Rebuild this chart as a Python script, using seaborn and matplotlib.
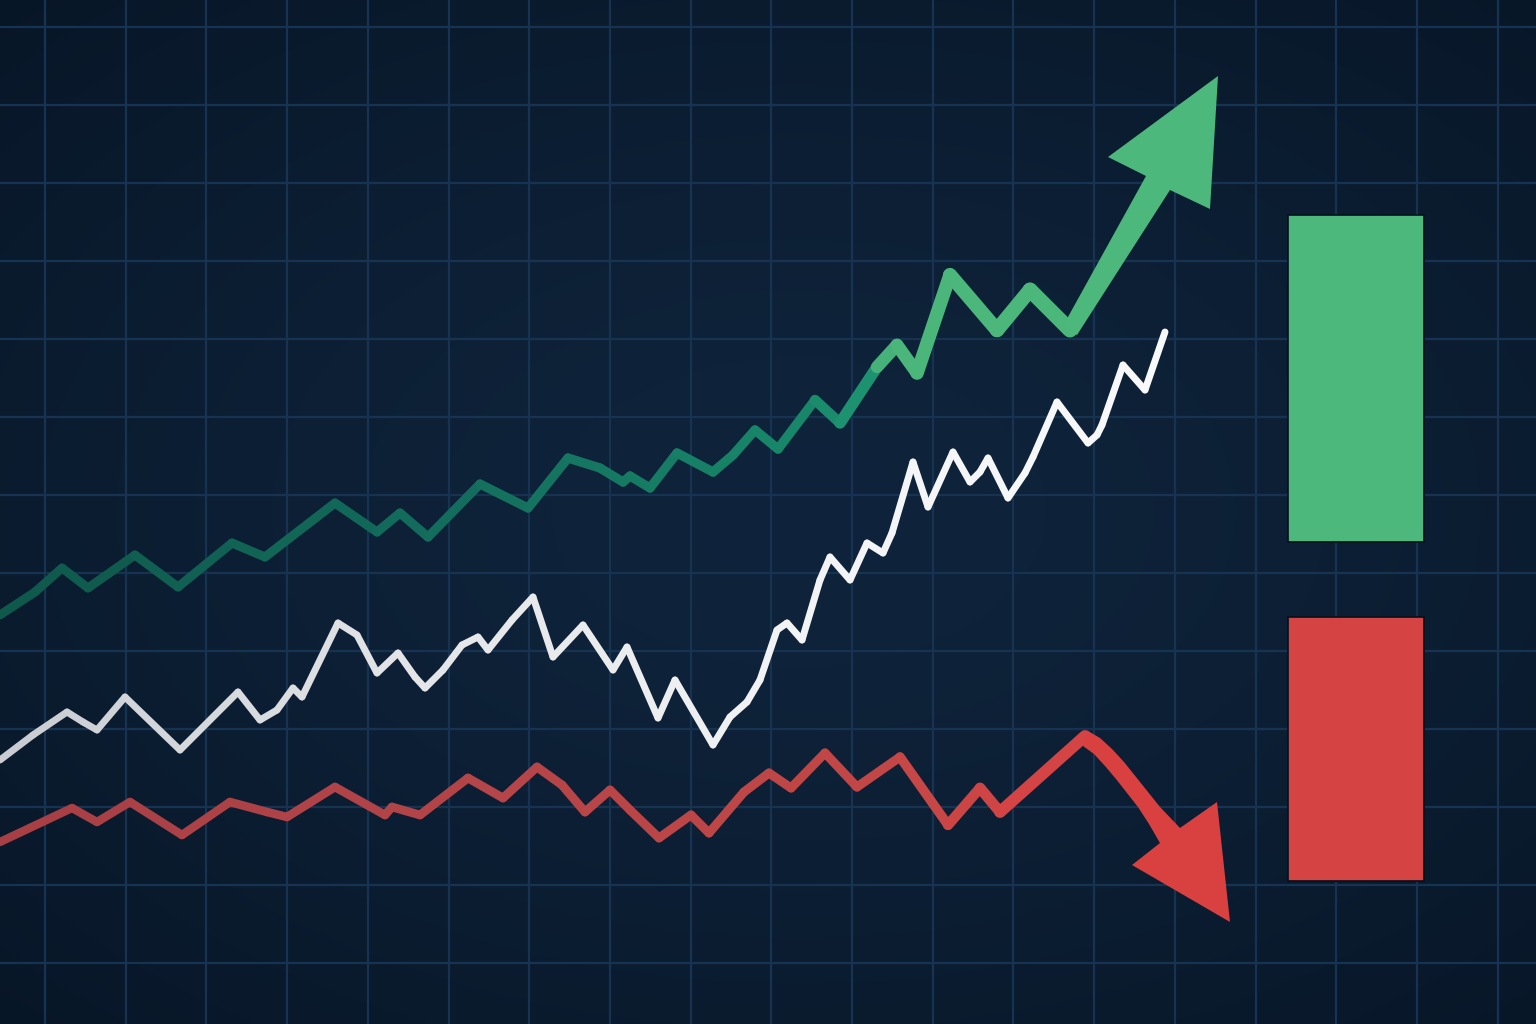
import numpy as np
import pandas as pd
import matplotlib
matplotlib.use("Agg")
import matplotlib.pyplot as plt
import seaborn as sns
from matplotlib.colors import to_rgb

# ---------------- data ----------------
green_x = [0.0, 3.5, 6.2, 8.8, 13.5, 17.8, 23.2, 26.5, 33.5, 37.7, 40.0, 42.8, 48.0, 52.8,
           56.8, 60.0, 62.3, 63.0, 65.0, 67.7, 71.3, 73.3, 75.5, 77.8, 81.5, 84.0, 87.7,
           89.7, 91.7, 95.0, 99.7, 103.0, 107.0]
green_y = [40.9, 43.2, 45.6, 43.6, 46.9, 43.7, 48.1, 46.7, 52.1, 49.2, 51.1, 48.7, 54.0, 51.6,
           56.6, 55.6, 54.2, 54.8, 53.6, 57.1, 55.2, 56.9, 59.4, 57.5, 62.4, 60.1, 65.7,
           67.9, 65.1, 74.9, 69.4, 73.4, 69.4]

white_x = [0.0, 3.3, 6.7, 8.3, 9.7, 12.5, 18.0, 23.8, 26.0, 27.7, 29.3, 30.2, 33.8, 35.7,
           37.7, 39.8, 41.5, 42.5, 44.3, 46.2, 47.8, 48.8, 51.2, 53.3, 55.3, 58.3, 61.3,
           62.7, 65.8, 67.5, 71.3, 73.0, 74.7, 76.0, 77.7, 78.7, 80.2, 82.0, 83.0, 85.0,
           86.7, 88.3, 89.2, 91.3, 92.8, 95.3, 97.0, 98.0, 98.8, 100.8, 102.5, 103.3,
           105.7, 108.8, 109.7, 110.2, 112.3, 114.5, 116.5]
white_y = [26.4, 28.9, 31.2, 30.2, 29.4, 32.7, 27.4, 33.2, 30.4, 31.4, 33.6, 32.7, 40.1, 38.9,
           35.1, 37.1, 34.7, 33.6, 35.4, 37.9, 38.7, 37.4, 40.4, 42.7, 36.7, 39.9, 35.4,
           37.7, 30.6, 34.4, 27.9, 30.7, 32.2, 34.4, 39.4, 40.1, 38.4, 44.4, 46.7, 44.4,
           48.1, 47.1, 49.1, 56.2, 51.7, 57.2, 54.2, 55.2, 56.6, 52.6, 55.1, 56.7,
           62.2, 58.1, 58.9, 59.9, 65.9, 63.4, 69.2]

red_x = [0.0, 7.2, 9.7, 13.0, 18.2, 23.0, 26.7, 28.7, 33.5, 38.5, 39.2, 42.0, 46.8, 50.3,
         53.7, 56.2, 58.5, 61.0, 63.0, 65.9, 69.1, 70.9, 74.4, 76.9, 79.1, 82.5, 85.7,
         90.0, 94.8, 98.0, 100.0, 108.5]
red_y = [18.2, 21.6, 20.2, 22.2, 18.9, 22.2, 21.2, 20.7, 23.7, 20.9, 21.7, 20.9, 24.6, 22.6,
         25.7, 23.9, 21.2, 23.4, 21.4, 18.6, 20.9, 19.1, 23.2, 25.1, 23.6, 27.1, 23.7,
         26.7, 19.9, 23.6, 21.2, 28.8]

# arrow outlines (shaft + head)
green_arrow_x = [106.3, 114.6, 110.8, 121.8, 121.0, 117.0, 107.7]
green_arrow_y = [69.8, 84.8, 86.7, 94.8, 81.5, 83.4, 68.9]
red_arrow_x = [108.8, 110.0, 111.2, 112.4, 113.6, 114.8, 116.0, 118.0,
               121.7, 123.0, 113.2,
               116.0, 114.9, 113.8, 112.7, 111.6, 110.5, 109.4, 108.3]
red_arrow_y = [29.3, 28.6, 27.5, 26.2, 24.7, 23.2, 21.7, 19.6,
               22.2, 10.2, 15.9,
               18.1, 20.0, 21.7, 23.1, 24.5, 25.8, 27.0, 27.8]

# floating bars on the right
bar_names = ["gain", "loss"]
bar_center = [135.6, 135.6]
bar_bottom = [48.2, 14.3]
bar_top = [80.9, 40.7]

# ---------------- styling ----------------
sns.set_theme(style="dark")
plt.rcParams["lines.solid_capstyle"] = "round"
plt.rcParams["lines.solid_joinstyle"] = "round"

fig = plt.figure(figsize=(15.36, 10.24), dpi=100, facecolor="#0a1a2c")
ax = fig.add_axes([0, 0, 1, 1])
XMAX, YMAX = 153.6, 102.4
ax.set_xlim(0, XMAX)
ax.set_ylim(0, YMAX)

# background radial gradient
H, W = 256, 384
yy, xx = np.mgrid[0:1:H * 1j, 0:1:W * 1j]
d = np.sqrt(((xx - 0.52) / 0.8) ** 2 + ((yy - 0.5) / 0.75) ** 2)
t = np.clip(d, 0, 1)[..., None] ** 1.3
c_center = np.array(to_rgb("#0f243c"))
c_edge = np.array(to_rgb("#071525"))
img = c_center * (1 - t) + c_edge * t
ax.imshow(img, extent=(0, XMAX, 0, YMAX), origin="lower", aspect="auto",
          zorder=0, interpolation="bilinear")

# grid
ax.set_xticks(4.5 + 8.07 * np.arange(19))
ax.set_yticks(6.1 + 7.8 * np.arange(13))
ax.set_axisbelow(True)
ax.grid(True, color="#173352", linewidth=1.6)
ax.tick_params(length=0, labelbottom=False, labelleft=False)
for s in ax.spines.values():
    s.set_visible(False)


def interp_color(x, stops):
    xs = [p for p, _ in stops]
    cs = np.array([to_rgb(c) for _, c in stops])
    return tuple(np.interp(x, xs, cs[:, k]) for k in range(3))


def interp_width(x, stops):
    return float(np.interp(x, [p for p, _ in stops], [w for _, w in stops]))


def segment_line(xs, ys, cstops, wstops, zorder):
    xs = np.asarray(xs)
    ys = np.asarray(ys)
    rows = []
    for i in range(len(xs) - 1):
        rows.append((xs[i], ys[i], i))
        rows.append((xs[i + 1], ys[i + 1], i))
    df = pd.DataFrame(rows, columns=["x", "y", "seg"])
    mid = (xs[:-1] + xs[1:]) / 2
    pal = {i: interp_color(m, cstops) for i, m in enumerate(mid)}
    siz = {i: interp_width(m, wstops) for i, m in enumerate(mid)}
    sns.lineplot(data=df, x="x", y="y", hue="seg", size="seg", palette=pal, sizes=siz,
                 estimator=None, sort=False, legend=False, ax=ax, zorder=zorder)


green_cstops = [(0, "#0e574b"), (45, "#136d5c"), (80, "#188769"), (86, "#1d9270"),
                (89, "#4bb67a"), (154, "#50bb7d")]
green_wstops = [(0, 6.4), (80, 6.8), (88, 8.8), (95, 10.0), (107, 11.0)]
white_cstops = [(0, "#c8ccd1"), (40, "#e2e4e7"), (80, "#f2f3f4"), (154, "#ffffff")]
white_wstops = [(0, 5.0), (154, 5.0)]
red_cstops = [(0, "#a63f45"), (50, "#b44548"), (90, "#c44646"), (108, "#d84343")]
red_wstops = [(0, 6.0), (90, 6.6), (108, 9.0)]

segment_line(red_x, red_y, red_cstops, red_wstops, 3)
segment_line(white_x, white_y, white_cstops, white_wstops, 4)
segment_line(green_x, green_y, green_cstops, green_wstops, 3)

ax.fill(green_arrow_x, green_arrow_y, color="#4db87b", zorder=3.5, linewidth=0)
ax.fill(red_arrow_x, red_arrow_y, color="#d94141", zorder=3.5, linewidth=0)

heights = np.subtract(bar_top, bar_bottom)
ax.bar(bar_center, heights, bottom=bar_bottom, width=13.6,
       color=["#4db87b", "#d64343"], edgecolor="#06101c", linewidth=1.2, zorder=3)

fig.savefig("out.png", dpi=100, facecolor=fig.get_facecolor())
